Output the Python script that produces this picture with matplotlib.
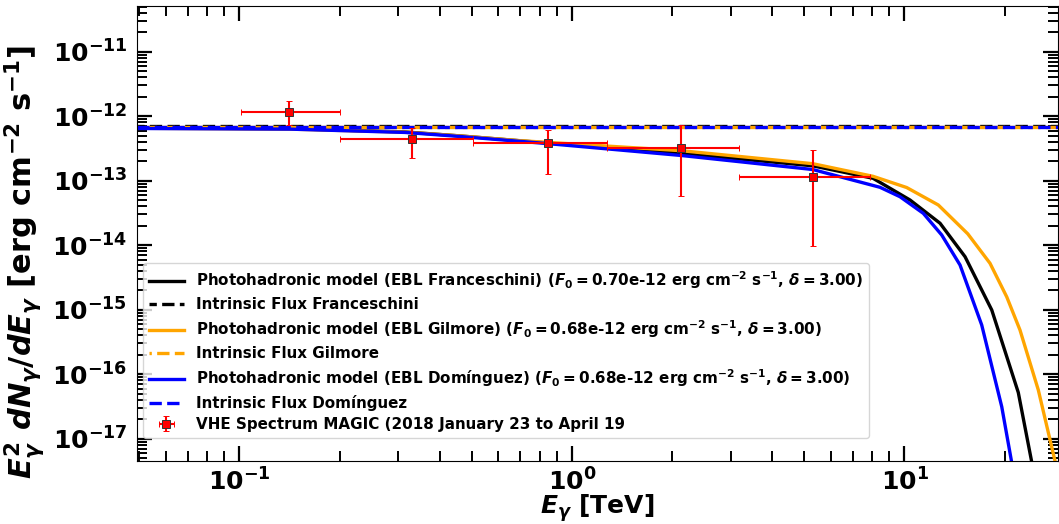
import numpy as np
import matplotlib
matplotlib.use("Agg")
import matplotlib.pyplot as plt

plt.rcParams['font.family'] = ['DejaVu Sans']
plt.rcParams['font.weight'] = 'bold'
plt.rcParams['axes.labelweight'] = 'bold'
plt.rcParams['mathtext.fontset'] = 'custom'
plt.rcParams['mathtext.rm'] = 'DejaVu Sans:bold'
plt.rcParams['mathtext.it'] = 'DejaVu Sans:italic:bold'
plt.rcParams['mathtext.bf'] = 'DejaVu Sans:bold'

# ---- data ----
# Photohadronic model, EBL Franceschini
E_fr = [0.049, 0.142, 0.315, 0.46, 0.84, 2.13, 5.3, 8.04, 10.39, 12.79, 15.21, 18.30, 21.99, 25.0]
F_fr = [6.6e-13, 6.4e-13, 5.7e-13, 4.95e-13, 3.85e-13, 2.65e-13, 1.70e-13, 1.09e-13,
        5.02e-14, 2.19e-14, 6.63e-15, 9.89e-16, 5.2e-17, 1.7e-18]
# Photohadronic model, EBL Gilmore
E_gi = [0.049, 0.142, 0.315, 0.46, 0.70, 2.13, 5.3, 8.04, 10.15, 12.64, 15.5, 18.08, 20.30, 22.25, 25.26, 29.5]
F_gi = [6.5e-13, 6.3e-13, 5.65e-13, 4.95e-13, 4.17e-13, 2.92e-13, 1.835e-13, 1.17e-13,
        7.84e-14, 4.2e-14, 1.5e-14, 5.24e-15, 1.58e-15, 4.84e-16, 5.69e-17, 1.9e-18]
# Photohadronic model, EBL Dominguez
E_do = [0.049, 0.142, 0.315, 0.46, 0.84, 2.13, 5.3, 8.44, 9.69, 11.39, 12.94, 14.69, 17.07, 19.61, 21.5]
F_do = [6.45e-13, 6.3e-13, 5.6e-13, 4.85e-13, 3.77e-13, 2.46e-13, 1.49e-13, 7.9e-14,
        5.65e-14, 3.12e-14, 1.44e-14, 4.93e-15, 5.79e-16, 3.13e-17, 2.2e-18]
# Intrinsic fluxes (F0)
F0_fr = 0.70e-12
F0_gi = 0.68e-12
F0_do = 0.68e-12
E_int = [0.03, 40.0]

# MAGIC VHE spectrum
E_obs = [0.1406, 0.331, 0.845, 2.128, 5.32]
E_lo = [0.1008, 0.2012, 0.503, 1.271, 3.18]
E_hi = [0.2003, 0.503, 1.271, 3.18, 7.87]
F_obs = [1.16e-12, 4.38e-13, 3.89e-13, 3.25e-13, 1.15e-13]
F_lo = [7.23e-13, 2.22e-13, 1.27e-13, 5.8e-14, 9.7e-15]
F_hi = [1.74e-12, 6.5e-13, 6.11e-13, 7.31e-13, 2.99e-13]

x_ticks = [0.1, 1, 10]
y_ticks = [1e-17, 1e-16, 1e-15, 1e-14, 1e-13, 1e-12, 1e-11]

# ---- figure ----
fig = plt.figure(figsize=(10.59, 5.24), dpi=100)
ax = fig.add_axes([137/1059, 63/524, 921/1059, 455/524])

lw = 2.4
ax.plot(E_fr, F_fr, color='black', lw=lw,
        label=r"Photohadronic model (EBL Franceschini) ($F_0 = 0.70$e-12 erg cm$^{-2}$ s$^{-1}$, $\delta = 3.00$)")
ax.plot(E_int, [F0_fr, F0_fr], color='black', lw=lw, ls=(1.5, (3.7, 1.6)),
        label="Intrinsic Flux Franceschini")
ax.plot(E_gi, F_gi, color='orange', lw=lw,
        label=r"Photohadronic model (EBL Gilmore) ($F_0 = 0.68$e-12 erg cm$^{-2}$ s$^{-1}$, $\delta = 3.00$)")
ax.plot(E_int, [F0_gi, F0_gi], color='orange', lw=lw, ls=(3.0, (3.7, 1.6)),
        label="Intrinsic Flux Gilmore")
ax.plot(E_do, F_do, color='blue', lw=lw,
        label=r"Photohadronic model (EBL Domínguez) ($F_0 = 0.68$e-12 erg cm$^{-2}$ s$^{-1}$, $\delta = 3.00$)")
ax.plot(E_int, [F0_do, F0_do], color='blue', lw=lw, ls=(0, (3.7, 1.6)),
        label="Intrinsic Flux Domínguez")

E_obs_a = np.array(E_obs)
F_obs_a = np.array(F_obs)
xerr = [E_obs_a - np.array(E_lo), np.array(E_hi) - E_obs_a]
yerr = [F_obs_a - np.array(F_lo), np.array(F_hi) - F_obs_a]
ax.errorbar(E_obs, F_obs, xerr=xerr, yerr=yerr, fmt='s', color='red', ecolor='red',
            mec='#333333', mew=0.7, ms=6, elinewidth=1.5, capsize=2,
            label="VHE Spectrum MAGIC (2018 January 23 to April 19")

ax.set_xscale('log')
ax.set_yscale('log')
ax.set_xlim(0.0492, 28.95)
ax.set_ylim(4.51e-18, 5.11e-11)
ax.set_xticks(x_ticks)
ax.set_yticks(y_ticks)

ax.tick_params(which='both', direction='in', top=True, right=True, labelsize=18)
ax.tick_params(which='major', length=11, width=1.6, pad=7)
ax.tick_params(axis='x', which='major', pad=5)
ax.tick_params(which='minor', length=7, width=1.4)
for t in ax.get_xticklabels() + ax.get_yticklabels():
    t.set_fontweight('bold')

ax.set_xlabel(r"$E_\gamma$ [TeV]", fontsize=18, fontweight='bold', labelpad=-2)
ax.set_ylabel(r"$E_\gamma^2\ dN_\gamma/dE_\gamma$ [erg cm$^{-2}$ s$^{-1}$]", fontsize=22,
              fontweight='bold')
ax.yaxis.set_label_coords(-0.0977, 0.437)

leg = ax.legend(loc='lower left', bbox_to_anchor=(6/921, 23/455), borderaxespad=0,
                handlelength=2.3, labelspacing=0.4,
                prop={'weight': 'bold', 'size': 10.9})

fig.savefig("out.png", dpi=100)
